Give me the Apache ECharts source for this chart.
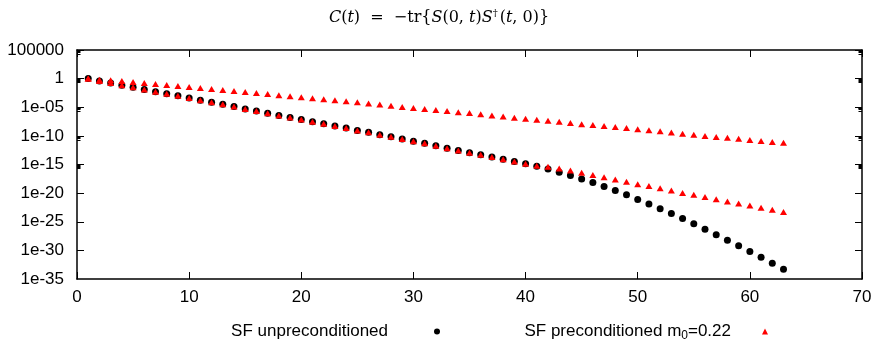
<!DOCTYPE html>
<html>
<head>
<meta charset="utf-8">
<script src="https://cdn.jsdelivr.net/npm/echarts@6/dist/echarts.min.js"></script>
<style>html,body{margin:0;padding:0;background:#fff}#c{width:878px;height:344px}</style>
</head>
<body>
<div id="c"></div>
<script>
const times = [1,2,3,4,5,6,7,8,9,10,11,12,13,14,15,16,17,18,19,20,21,22,23,24,25,26,27,28,29,30,31,32,33,34,35,36,37,38,39,40,41,42,43,44,45,46,47,48,49,50,51,52,53,54,55,56,57,58,59,60,61,62,63];

const unpreconditioned = [
  1.1e0, 4.0e-1, 1.7e-1, 7.1e-2, 3.0e-2, 1.3e-2, 5.1e-3, 2.3e-3, 1.0e-3, 4.3e-4,
  1.7e-4, 7.2e-5, 3.2e-5, 1.3e-5, 5.2e-6, 2.3e-6, 8.9e-7, 3.8e-7, 1.7e-7, 7.6e-8,
  3.0e-8, 1.3e-8, 5.1e-9, 2.3e-9, 9.1e-10, 4.1e-10, 1.5e-10, 6.9e-11, 2.8e-11, 1.1e-11,
  4.9e-12, 1.9e-12, 7.1e-13, 2.8e-13, 1.1e-13, 5.0e-14, 2.0e-14, 7.9e-15, 3.5e-15, 1.4e-15,
  5.0e-16, 1.6e-16, 4.5e-17, 1.2e-17, 2.8e-18, 7.4e-19, 1.5e-19, 3.0e-20, 5.0e-21, 7.9e-22,
  1.2e-22, 1.8e-23, 2.8e-24, 3.8e-25, 4.3e-26, 5.0e-27, 5.1e-28, 6.0e-29, 6.3e-30, 6.3e-31,
  6.5e-32, 5.8e-33, 5.1e-34
];

// preconditioned m0=0.22, lower branch
const preconditionedLow = [
  1.1e0, 4.0e-1, 1.7e-1, 7.1e-2, 3.0e-2, 1.3e-2, 5.1e-3, 2.3e-3, 1.0e-3, 4.3e-4,
  1.7e-4, 7.2e-5, 3.2e-5, 1.3e-5, 5.2e-6, 2.3e-6, 8.9e-7, 3.8e-7, 1.7e-7, 7.6e-8,
  3.0e-8, 1.3e-8, 5.1e-9, 2.3e-9, 9.1e-10, 4.1e-10, 1.5e-10, 6.9e-11, 2.8e-11, 1.1e-11,
  4.9e-12, 1.9e-12, 7.1e-13, 2.8e-13, 1.1e-13, 5.0e-14, 2.0e-14, 7.9e-15, 3.5e-15, 1.4e-15,
  6.3e-16, 4.0e-16, 2.1e-16, 8.9e-17, 3.5e-17, 1.4e-17, 6.0e-18, 2.5e-18, 9.5e-19, 3.7e-19,
  1.7e-19, 7.4e-20, 3.0e-20, 1.1e-20, 5.0e-21, 2.2e-21, 8.9e-22, 3.5e-22, 1.6e-22, 7.1e-23,
  2.7e-23, 1.2e-23, 4.8e-24
];

// preconditioned m0=0.22, upper branch
const preconditionedHigh = [
  1.1e0, 6.3e-1, 5.0e-1, 3.8e-1, 2.6e-1, 1.7e-1, 1.1e-1, 7.6e-2, 5.1e-2, 3.4e-2,
  2.4e-2, 1.5e-2, 1.0e-2, 6.8e-3, 4.6e-3, 3.0e-3, 2.0e-3, 1.3e-3, 8.7e-4, 5.8e-4,
  3.8e-4, 2.5e-4, 1.7e-4, 1.1e-4, 7.2e-5, 4.6e-5, 2.9e-5, 1.8e-5, 1.1e-5, 7.4e-6,
  4.9e-6, 3.2e-6, 2.2e-6, 1.4e-6, 9.8e-7, 6.0e-7, 3.8e-7, 2.4e-7, 1.5e-7, 1.0e-7,
  6.5e-8, 4.4e-8, 2.8e-8, 1.7e-8, 1.1e-8, 7.8e-9, 5.1e-9, 3.5e-9, 2.3e-9, 1.5e-9,
  1.0e-9, 6.3e-10, 3.8e-10, 2.4e-10, 1.5e-10, 1.0e-10, 6.6e-11, 4.5e-11, 3.0e-11, 2.0e-11,
  1.3e-11, 8.9e-12, 6.2e-12
];

const xTickValues = [0,10,20,30,40,50,60,70];
const yTickLabels = ['100000','1','1e-05','1e-10','1e-15','1e-20','1e-25','1e-30','1e-35'];
const yMin = 1e-35;

const seriesNames = ['SF unpreconditioned', 'SF preconditioned m0=0.22'];
const titleText = '{i|C}({i|t})  =  \u2212tr{{i|S}(0, {i|t}){i|S}{sup|\u2020}({i|t}, 0)}';

const chart = echarts.init(document.getElementById('c'), null, {renderer: 'canvas'});

const sans = 'Liberation Sans, Arial, sans-serif';
const serif = 'DejaVu Serif, Liberation Serif, serif';
const axisLineStyle = {color: '#000', width: 1.5};
const yLabelMargin = 13;

function yFmt(v) {
  if (!(v > 0)) return '';
  const e = Math.round(Math.log10(v));
  const idx = (5 - e) / 5;
  if (idx >= 0 && idx < yTickLabels.length && Number.isInteger(idx)) return yTickLabels[idx];
  return '';
}

const xBase = {
  type: 'value', min: 0, max: 70, interval: 10,
  axisLine: {show: true, lineStyle: axisLineStyle, onZero: false},
  axisTick: {show: true, inside: true, length: 7, lineStyle: {color: '#000', width: 1}},
  splitLine: {show: false}
};
const yBase = {
  type: 'log', logBase: 10, min: yMin, max: 1e5, interval: 5,
  axisLine: {show: true, lineStyle: axisLineStyle, onZero: false},
  axisTick: {show: true, inside: true, length: 7, lineStyle: {color: '#000', width: 1}},
  minorTick: {show: true, splitNumber: 5, length: 3.5, lineStyle: {color: '#000', width: 1}},
  splitLine: {show: false}
};

chart.setOption({
  animation: false,
  backgroundColor: '#fff',
  title: {
    text: titleText,
    left: 'center',
    top: 3,
    textStyle: {
      fontFamily: serif,
      fontSize: 16, fontWeight: 'normal', color: '#000',
      rich: {
        i: {fontFamily: serif, fontSize: 16, fontStyle: 'italic', color: '#000'},
        sup: {fontFamily: serif, fontSize: 10, color: '#000', padding: [0, 2, 9, 0]}
      }
    }
  },
  grid: {left: 77, right: 16, top: 50, bottom: 65, outerBoundsMode: 'none'},
  legend: [
    {
      data: [{name: seriesNames[0], icon: 'circle'}],
      right: 438, top: 323, padding: 0,
      align: 'right', itemWidth: 6, itemHeight: 6,
      textStyle: {fontFamily: sans, fontSize: 17, color: '#000', padding: [0, 41, 0, 0]}
    },
    {
      data: [{name: seriesNames[1], icon: 'triangle'}],
      right: 110, top: 323, padding: 0,
      align: 'right', itemWidth: 6, itemHeight: 6,
      formatter: function () { return 'SF preconditioned m{sub|0}=0.22'; },
      textStyle: {
        fontFamily: sans, fontSize: 17, color: '#000', padding: [0, 26, 0, 0],
        rich: {sub: {fontFamily: sans, fontSize: 12, color: '#000', padding: [9, 0, 0, 0]}}
      }
    }
  ],
  xAxis: [
    Object.assign({}, xBase, {
      position: 'bottom',
      axisLabel: {show: true, margin: 10, fontFamily: sans, fontSize: 17, color: '#000',
        showMinLabel: true, showMaxLabel: true,
        formatter: function (v) { return xTickValues.indexOf(v) >= 0 ? String(v) : ''; }}
    }),
    Object.assign({}, xBase, {position: 'top', axisLabel: {show: false}})
  ],
  yAxis: [
    Object.assign({}, yBase, {
      position: 'left',
      axisLabel: {show: true, margin: yLabelMargin, fontFamily: sans, fontSize: 17, color: '#000',
        showMinLabel: true, showMaxLabel: true, formatter: yFmt}
    }),
    Object.assign({}, yBase, {position: 'right', axisLabel: {show: false}})
  ],
  series: [
    {
      name: seriesNames[0], type: 'scatter', xAxisIndex: 0, yAxisIndex: 0,
      symbol: 'circle', symbolSize: 7,
      itemStyle: {color: '#000', opacity: 1},
      data: times.map((t, i) => [t, unpreconditioned[i]])
    },
    {
      name: seriesNames[1], type: 'scatter', xAxisIndex: 0, yAxisIndex: 0,
      symbol: 'triangle', symbolSize: [7, 6],
      itemStyle: {color: '#ff0000', opacity: 1},
      data: times.map((t, i) => [t, preconditionedLow[i]]).concat(times.map((t, i) => [t, preconditionedHigh[i]]))
    }
  ]
});

// The log scale rounds its lowest tick (1e-35) to 0 and drops its label; place it via the axis scale.
const minPx = chart.convertToPixel({yAxisIndex: 0}, yMin);
const xPx0 = chart.convertToPixel({xAxisIndex: 0}, 0);
chart.setOption({
  graphic: [{
    type: 'text', x: xPx0 - yLabelMargin, y: minPx, silent: true,
    style: {text: yTickLabels[yTickLabels.length - 1], fontFamily: sans, fontSize: 17, fill: '#000',
      align: 'right', verticalAlign: 'middle'}
  }]
});
</script>
</body>
</html>
